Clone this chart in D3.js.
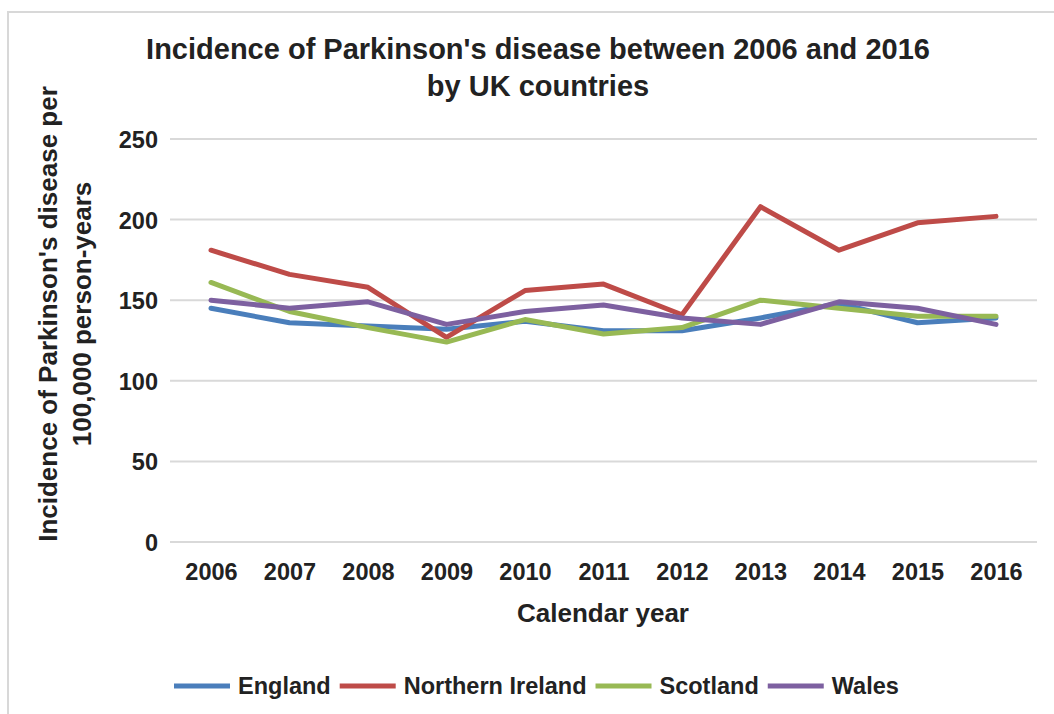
<!DOCTYPE html>
<html>
<head>
<meta charset="utf-8">
<script src="https://d3js.org/d3.v7.min.js"></script>
<style>
  body { margin: 0; background: #fff; }
  svg text { font-family: "Liberation Sans", Arial, sans-serif; font-weight: bold; fill: #222; }
</style>
</head>
<body>
<svg class="chart" width="1054" height="714"></svg>
<script>
//Chart values
var years = ["2006","2007","2008","2009","2010","2011","2012","2013","2014","2015","2016"]
var england         = [145, 136, 134, 132, 137, 131, 131, 139, 148, 136, 139]
var northernIreland = [181, 166, 158, 127, 156, 160, 141, 208, 181, 198, 202]
var scotland        = [161, 143, 133, 124, 138, 129, 133, 150, 145, 140, 140]
var wales           = [150, 145, 149, 135, 143, 147, 139, 135, 149, 145, 135]
var seriesNames = ["England", "Northern Ireland", "Scotland", "Wales"]
var seriesColors = ["#4a7ebb", "#be4b48", "#98b954", "#7d60a0"]
var yTicks = [0, 50, 100, 150, 200, 250]

var titleLines = ["Incidence of Parkinson's disease between 2006 and 2016", "by UK countries"]
var yTitleLines = ["Incidence of Parkinson's disease per", "100,000 person-years"]
var xTitle = "Calendar year"

var series = [england, northernIreland, scotland, wales]

var svg = d3.select("svg.chart")

//light frame round the chart area
svg.append("rect")
  .attr("x", 8).attr("y", 12)
  .attr("width", 1100).attr("height", 800)
  .attr("fill", "none")
  .attr("stroke", "#d8d8d8")
  .attr("stroke-width", 2)

var x = d3.scalePoint().domain(years).range([211, 996])
var y = d3.scaleLinear().domain([0, 250]).range([542, 139])

//gridlines
svg.append("g").selectAll("line")
  .data(yTicks)
  .enter()
  .append("line")
  .attr("x1", 170).attr("x2", 1037)
  .attr("y1", function(d){ return y(d) }).attr("y2", function(d){ return y(d) })
  .attr("stroke", "#d9d9d9")
  .attr("stroke-width", 2)

//y axis labels (no domain line)
var yAxis = svg.append("g")
  .attr("transform", "translate(158,0)")
  .call(d3.axisLeft(y).tickValues(yTicks).tickSize(0).tickPadding(0))
yAxis.select(".domain").remove()
yAxis.selectAll("text")
  .attr("dy", "0.36em")
  .style("font-size", "23.5px")
  .style("font-family", "Liberation Sans, Arial, sans-serif")
  .style("font-weight", "bold")
  .attr("fill", "#222")

//x axis labels
var xAxis = svg.append("g")
  .attr("transform", "translate(0,563)")
  .call(d3.axisBottom(x).tickSize(0).tickPadding(0))
xAxis.select(".domain").remove()
xAxis.selectAll("text")
  .attr("dy", "0.71em")
  .style("font-size", "23.5px")
  .style("font-family", "Liberation Sans, Arial, sans-serif")
  .style("font-weight", "bold")
  .attr("fill", "#222")

//lines
var line = d3.line()
  .x(function(d, i){ return x(years[i]) })
  .y(function(d){ return y(d) })

svg.append("g").selectAll("path")
  .data(series)
  .enter()
  .append("path")
  .attr("d", line)
  .attr("fill", "none")
  .attr("stroke", function(d, i){ return seriesColors[i] })
  .attr("stroke-width", 5)
  .attr("stroke-linejoin", "round")
  .attr("stroke-linecap", "round")

//title
svg.append("g").selectAll("text")
  .data(titleLines)
  .enter()
  .append("text")
  .attr("x", 538)
  .attr("y", function(d, i){ return 59 + i * 37 })
  .attr("text-anchor", "middle")
  .style("font-size", "29px")
  .text(function(d){ return d })

//y axis title
svg.append("g").selectAll("text")
  .data(yTitleLines)
  .enter()
  .append("text")
  .attr("transform", function(d, i){ return "translate(" + (57 + i * 34) + ",314) rotate(-90)" })
  .attr("text-anchor", "middle")
  .style("font-size", "26px")
  .text(function(d){ return d })

//x axis title
svg.append("text")
  .attr("x", 603).attr("y", 622)
  .attr("text-anchor", "middle")
  .style("font-size", "26px")
  .text(xTitle)

//legend, laid out left to right
var legend = svg.append("g")
var lx = 174
seriesNames.forEach(function(name, i){
  legend.append("line")
    .attr("x1", lx).attr("x2", lx + 56)
    .attr("y1", 686).attr("y2", 686)
    .attr("stroke", seriesColors[i])
    .attr("stroke-width", 5)
  var t = legend.append("text")
    .attr("x", lx + 64).attr("y", 694)
    .style("font-size", "23.5px")
    .text(name)
  lx = lx + 64 + t.node().getComputedTextLength() + 9
})
</script>
</body>
</html>
